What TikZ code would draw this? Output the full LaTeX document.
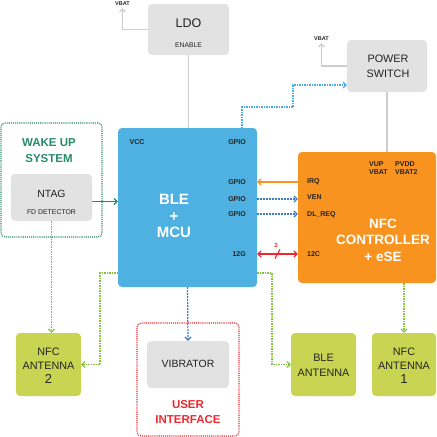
\documentclass[tikz,border=0pt]{standalone}
\usepackage{fontspec}
\setmainfont{Liberation Sans}
\usetikzlibrary{arrows.meta}

\definecolor{boxgrey}{RGB}{226,226,226}
\definecolor{linegrey}{RGB}{205,205,205}
\definecolor{mcublue}{RGB}{78,177,225}
\definecolor{nfcorange}{RGB}{247,147,30}
\definecolor{antgreen}{RGB}{201,213,82}
\definecolor{dotgreen}{RGB}{132,194,62}
\definecolor{waketeal}{RGB}{40,138,108}
\definecolor{uired}{RGB}{238,40,50}
\definecolor{sigblue}{RGB}{62,122,200}
\definecolor{skyblue}{RGB}{72,172,230}
\definecolor{txtgrey}{RGB}{35,35,35}

\begin{document}
\begin{tikzpicture}[x=1pt,y=-1pt,
  box/.style={rounded corners=4pt, inner sep=0pt},
  greybox/.style={box, fill=boxgrey},
  antbox/.style={box, fill=antgreen, minimum width=65pt, minimum height=63pt},
  groupbox/.style={box, densely dotted, line width=1.1pt},
  pintext/.style={font=\fontsize{7}{8}\selectfont\bfseries, text=txtgrey, inner sep=0pt, align=left},
  boxtext/.style={font=\fontsize{10.8}{15}\selectfont, text=txtgrey, align=center, inner sep=0pt},
  bigbold/.style={font=\fontsize{15}{16.5}\selectfont\bfseries, text=white, align=center, inner sep=0pt},
  groupbold/.style={font=\fontsize{11.5}{16}\selectfont\bfseries, align=center, inner sep=0pt},
  arr/.style={-{Straight Barb[length=3pt,width=6pt]}},
  wire/.style={draw=linegrey, line width=1.5pt},
  skydot/.style={draw=skyblue, dash pattern=on 1.5pt off 1pt, line width=1.2pt},
  sigdash/.style={draw=sigblue, dash pattern=on 2pt off 1pt, line width=1.2pt},
  greendot/.style={draw=dotgreen, dash pattern=on 1.5pt off 1pt, line width=1.2pt}
]
\useasboundingbox (0,0) rectangle (437,437);

% boxes
\node [greybox, minimum width=81pt, minimum height=51pt] (ldo) at (188.5,29.5) {};
\node [greybox, minimum width=80pt, minimum height=52pt] (psw) at (387,66) {};
\node [groupbox, draw=waketeal, minimum width=101pt, minimum height=114pt] (wake) at (51.5,180) {};
\node [greybox, minimum width=81pt, minimum height=47pt] (ntag) at (51.5,197.5) {};
\node [box, fill=mcublue, minimum width=139pt, minimum height=159pt] (ble) at (187.5,207.5) {};
\node [box, fill=nfcorange, minimum width=138pt, minimum height=131pt] (nfc) at (367,217.5) {};
\node [antbox] (ant2) at (48.5,364.5) {};
\node [antbox] (bleant) at (323.5,364.5) {};
\node [antbox, minimum width=64pt] (ant1) at (404,364.5) {};
\node [groupbox, draw=uired, minimum width=102pt, minimum height=113pt] (ui) at (188,379.5) {};
\node [greybox, minimum width=82pt, minimum height=47pt] (vib) at (188,364.5) {};

% texts
\node [boxtext, font=\fontsize{12.5}{14}\selectfont] (ldotxt) at (188.5,23) {LDO};
\node [pintext, font=\fontsize{6.8}{8}\selectfont] (enable) at (188.5,45) {ENABLE};
\node [pintext, font=\fontsize{5.5}{6}\selectfont\bfseries] (vbat1) at (122.5,4) {VBAT};
\node [boxtext] (pswtxt) at (388,66) {POWER\\SWITCH};
\node [pintext, font=\fontsize{5.5}{6}\selectfont\bfseries] (vbat2) at (321.5,39) {VBAT};

\node [groupbold, text=waketeal] (waketxt) at (49,151) {WAKE UP\\SYSTEM};
\node [boxtext, font=\fontsize{10.4}{12}\selectfont] (ntagtxt) at (51.5,194) {NTAG};
\node [pintext, font=\fontsize{6.9}{8}\selectfont] (fddet) at (51.5,212) {FD DETECTOR};

\node [bigbold] (bletxt) at (174,216) {BLE\\+\\MCU};
\node [pintext] (vcc) at (137,142) {VCC};
\node [pintext, anchor=east] (gpio1) at (246,142) {GPIO};
\node [pintext, anchor=east] (gpio2) at (246,182) {GPIO};
\node [pintext, anchor=east] (gpio3) at (246,199) {GPIO};
\node [pintext, anchor=east] (gpio4) at (246,214) {GPIO};
\node [pintext, anchor=east] (busble) at (246,254) {12G};

\node [bigbold, font=\fontsize{13.5}{16.4}\selectfont\bfseries] (nfctxt) at (383,240) {NFC\\CONTROLLER\\+ eSE};
\node [pintext, anchor=west, font=\fontsize{7}{7.6}\selectfont\bfseries] (vup) at (369,168) {VUP\\VBAT};
\node [pintext, anchor=west, font=\fontsize{7}{7.6}\selectfont\bfseries] (pvdd) at (395,168) {PVDD\\VBAT2};
\node [pintext, anchor=west] (irq) at (307,182) {IRQ};
\node [pintext, anchor=west] (ven) at (307,197) {VEN};
\node [pintext, anchor=west] (dlreq) at (307,215) {DL\_REQ};
\node [pintext, anchor=west] (busnfc) at (307,254) {12C};

\node [boxtext, font=\fontsize{10.8}{14}\selectfont] (ant2txt) at (48.5,366) {NFC\\ANTENNA\\{\fontsize{13}{13}\selectfont 2}};
\node [boxtext] (bleanttxt) at (323.5,365) {BLE\\ANTENNA};
\node [boxtext, font=\fontsize{10.8}{14}\selectfont] (ant1txt) at (404,366) {NFC\\ANTENNA\\{\fontsize{13}{13}\selectfont 1}};
\node [boxtext, font=\fontsize{10.5}{12}\selectfont] (vibtxt) at (188,364) {VIBRATOR};
\node [groupbold, text=uired, font=\fontsize{11.5}{14.3}\selectfont\bfseries] (uitxt) at (188,412) {USER\\INTERFACE};

% power lines
\draw[wire] (ldo.south) -- (ldo.south |- ble.north);
\draw[wire] (psw.south) -- (psw.south |- nfc.north);
\draw[wire, arr, line width=1.2pt] (ldo.west) -| ([yshift=-2pt]vbat1.south);
\draw[wire, arr, line width=1.2pt] (psw.west) -| ([yshift=-2pt]vbat2.south);

% signals
\coordinate (gp0) at (242,128);
\draw[skydot, arr] (gp0) |- (293,107) |- ([yshift=-19pt]psw.west);
\draw[draw=waketeal, line width=1.2pt, arr] ([yshift=-4pt]ntag.east) -- ([yshift=-4pt]ntag.east -| ble.west);
\draw[draw=nfcorange, line width=1.2pt, arr] (irq -| nfc.west) -- (gpio2 -| ble.east);
\draw[sigdash, arr] (gpio3 -| ble.east) -- (gpio3 -| nfc.west);
\draw[sigdash, arr] (gpio4 -| ble.east) -- (gpio4 -| nfc.west);
\draw[draw=uired, line width=1.2pt, {Straight Barb[length=3pt,width=6pt]}-{Straight Barb[length=3pt,width=6pt]}] (busble -| ble.east) -- (busble -| nfc.west) coordinate[midway] (busmid);
\draw[draw=uired, line width=1.2pt] ([shift={(-2.5,4.5)}]busmid) -- ([shift={(2.5,-4.5)}]busmid);
\node [pintext, text=uired, font=\fontsize{6}{6}\selectfont\bfseries] (buswidth) at (276,245) {2};
\draw[sigdash, arr] (ble.south) -- (vib.north);

% antenna feeds
\coordinate (lowL) at (118,273);
\coordinate (lowR) at (257,273);
\draw[greendot, arr] (ntag.south) -- (ntag.south |- ant2.north);
\draw[greendot, arr] (lowL) -- ++(-18,0) |- (ant2.east);
\draw[greendot, arr] (lowR) -- ++(15,0) |- (bleant.west);
\draw[greendot, arr] (nfc.south -| ant1.north) -- (ant1.north);

\end{tikzpicture}
\end{document}
